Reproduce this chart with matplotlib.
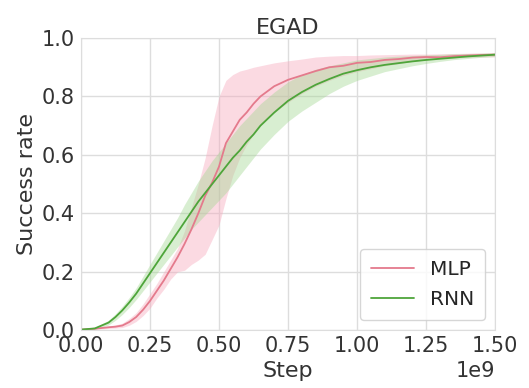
import matplotlib
matplotlib.use("Agg")
import matplotlib.pyplot as plt
import seaborn as sns
import numpy as np

sns.set_style("whitegrid")
plt.rcParams['font.family'] = ['DejaVu Sans']

steps = [0.0, 0.05, 0.1, 0.125, 0.15, 0.175, 0.2, 0.225, 0.25, 0.275, 0.3, 0.325, 0.35, 0.375,
         0.4, 0.425, 0.45, 0.475, 0.5, 0.525, 0.55, 0.575, 0.6, 0.625, 0.65, 0.7, 0.75, 0.8,
         0.85, 0.9, 0.95, 1.0, 1.05, 1.1, 1.15, 1.2, 1.25, 1.3, 1.35, 1.4, 1.45, 1.5]

mlp_mean = [0.002, 0.005, 0.010, 0.012, 0.016, 0.028, 0.045, 0.07, 0.10, 0.135, 0.17, 0.21, 0.25, 0.295,
            0.345, 0.40, 0.46, 0.505, 0.56, 0.64, 0.68, 0.72, 0.745, 0.775, 0.80, 0.835, 0.857, 0.872,
            0.887, 0.90, 0.905, 0.915, 0.918, 0.925, 0.928, 0.933, 0.935, 0.934, 0.938, 0.94, 0.942, 0.943]
mlp_upper = [0.004, 0.007, 0.014, 0.018, 0.024, 0.04, 0.06, 0.09, 0.125, 0.16, 0.20, 0.24, 0.28, 0.34,
             0.42, 0.50, 0.59, 0.70, 0.80, 0.855, 0.875, 0.887, 0.893, 0.90, 0.905, 0.915, 0.922, 0.928,
             0.935, 0.938, 0.94, 0.94, 0.942, 0.943, 0.944, 0.945, 0.945, 0.946, 0.947, 0.948, 0.949, 0.95]
mlp_lower = [0.0, 0.003, 0.006, 0.007, 0.009, 0.017, 0.03, 0.05, 0.075, 0.11, 0.14, 0.175, 0.20, 0.205,
             0.225, 0.24, 0.26, 0.31, 0.36, 0.45, 0.53, 0.59, 0.635, 0.67, 0.70, 0.745, 0.78, 0.81,
             0.835, 0.855, 0.872, 0.885, 0.895, 0.905, 0.912, 0.92, 0.925, 0.93, 0.932, 0.934, 0.935, 0.935]

rnn_mean = [0.002, 0.006, 0.026, 0.045, 0.068, 0.095, 0.125, 0.16, 0.195, 0.23, 0.265, 0.30, 0.335, 0.37,
            0.405, 0.44, 0.47, 0.50, 0.53, 0.56, 0.59, 0.615, 0.645, 0.67, 0.70, 0.745, 0.785, 0.815,
            0.84, 0.86, 0.878, 0.89, 0.90, 0.908, 0.914, 0.92, 0.925, 0.929, 0.933, 0.937, 0.94, 0.943]
rnn_upper = [0.004, 0.009, 0.034, 0.056, 0.082, 0.112, 0.145, 0.185, 0.225, 0.265, 0.305, 0.345, 0.385, 0.43,
             0.47, 0.51, 0.545, 0.58, 0.61, 0.64, 0.67, 0.70, 0.725, 0.75, 0.775, 0.815, 0.85, 0.875,
             0.893, 0.905, 0.915, 0.925, 0.93, 0.935, 0.938, 0.94, 0.942, 0.944, 0.946, 0.947, 0.948, 0.95]
rnn_lower = [0.0, 0.003, 0.018, 0.034, 0.054, 0.078, 0.105, 0.135, 0.165, 0.195, 0.225, 0.255, 0.285, 0.315,
             0.345, 0.37, 0.395, 0.42, 0.445, 0.47, 0.50, 0.53, 0.56, 0.59, 0.62, 0.67, 0.715, 0.75,
             0.78, 0.81, 0.835, 0.855, 0.87, 0.885, 0.895, 0.905, 0.913, 0.92, 0.926, 0.93, 0.934, 0.937]

labels = ["MLP", "RNN"]
line_colors = ["#e47a8c", "#4ea53a"]
fill_colors = ["#f7a8bc", "#9fd68e"]

x = np.array(steps) * 1e9

fig = plt.figure(figsize=(5.29, 3.88), dpi=100)
ax = fig.add_axes([0.153, 0.149, 0.783, 0.753])

ax.fill_between(x, mlp_lower, mlp_upper, color=fill_colors[0], alpha=0.42, lw=0)
ax.fill_between(x, rnn_lower, rnn_upper, color=fill_colors[1], alpha=0.4, lw=0)
ax.plot(x, mlp_mean, color=line_colors[0], lw=1.3, label=labels[0])
ax.plot(x, rnn_mean, color=line_colors[1], lw=1.3, label=labels[1])

ax.set_xlim(0, 1.5e9)
ax.set_ylim(0, 1.0)
ax.set_xticks(np.arange(0, 1.51e9, 0.25e9))
ax.set_yticks(np.arange(0, 1.01, 0.2))
ax.tick_params(axis='both', labelsize=15, pad=1, colors='#333333')
ax.xaxis.get_offset_text().set_fontsize(15)
ax.xaxis.get_offset_text().set_color('#333333')
ax.set_xlabel("Step", fontsize=16, color='#333333', labelpad=3)
ax.set_ylabel("Success rate", fontsize=16, color='#333333', labelpad=3)
ax.set_title("EGAD", fontsize=16, color='#333333', pad=3)
for s in ax.spines.values():
    s.set_color('#dddddd')
ax.grid(color='#dddddd', lw=1)
ax.legend(loc='lower right', fontsize=14.5, handlelength=2.1, borderpad=0.55, labelspacing=0.55)

fig.savefig("out.png", dpi=100)
